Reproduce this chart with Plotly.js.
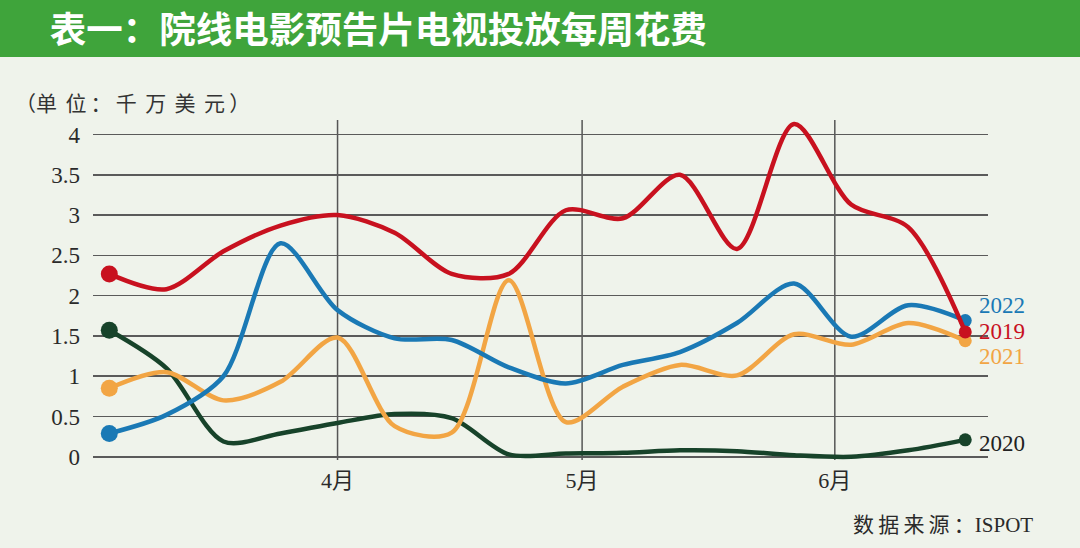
<!DOCTYPE html>
<html>
<head>
<meta charset="utf-8">
<script src="https://cdn.plot.ly/plotly-3.0.1.min.js"></script>
<style>
  html, body { margin: 0; padding: 0; background: #eff3eb; }
  #chart { width: 1080px; height: 548px; }
</style>
</head>
<body>
<div id="chart"></div>
<script>
// ---- data ----
const weeks = ['2022-03-04','2022-03-11','2022-03-18','2022-03-25','2022-04-01','2022-04-08',
               '2022-04-15','2022-04-22','2022-04-29','2022-05-06','2022-05-13','2022-05-20',
               '2022-05-27','2022-06-03','2022-06-10','2022-06-17'];
const s2019 = [2.27, 2.08, 2.55, 2.87, 3.00, 2.78, 2.27, 2.27, 3.06, 2.96, 3.50, 2.58, 4.13, 3.13, 2.85, 1.55];
const s2020 = [1.57, 1.10, 0.19, 0.29, 0.42, 0.53, 0.48, 0.03, 0.04, 0.05, 0.08, 0.07, 0.02, 0.00, 0.08, 0.21];
const s2021 = [0.85, 1.05, 0.70, 0.93, 1.48, 0.38, 0.30, 2.19, 0.43, 0.87, 1.14, 1.01, 1.52, 1.39, 1.66, 1.44];
const s2022 = [0.29, 0.52, 1.00, 2.65, 1.82, 1.47, 1.45, 1.11, 0.91, 1.14, 1.30, 1.66, 2.15, 1.49, 1.88, 1.69];
const seriesNames = ['2019', '2020', '2021', '2022'];
const monthTicks = ['2022-04-01', '2022-05-01', '2022-06-01'];
const monthLabels = ['4月', '5月', '6月'];
const yTicks = [0, 0.5, 1, 1.5, 2, 2.5, 3, 3.5, 4];
const yTickLabels = ['0', '0.5', '1', '1.5', '2', '2.5', '3', '3.5', '4'];
const titleText = '表一：院线电影预告片电视投放每周花费';
const unitText = '（单\u2009\u2009位\u2009：\u2009千\u2009\u2009万\u2009\u2009美\u2009\u2009元\u2009）';
const sourceText = '数\u2009据\u2009来\u2009源\u2009：ISPOT';

// ---- styling ----
const colors = { '2019': '#c8111f', '2020': '#17432a', '2021': '#f2a544', '2022': '#1a79b5' };
const labelColors = { '2019': '#c8111f', '2020': '#222222', '2021': '#f2a544', '2022': '#1a79b5' };
const labelY = { '2019': 1.56, '2020': 0.17, '2021': 1.25, '2022': 1.88 };
const serif = 'Liberation Serif, "Noto Sans CJK SC", serif';
const cjk = '"Noto Sans CJK SC", sans-serif';

const dataBy = { '2019': s2019, '2020': s2020, '2021': s2021, '2022': s2022 };
const drawOrder = ['2020', '2021', '2022', '2019'];

function markerSizes(n) {
  const a = new Array(n).fill(0);
  a[0] = 17; a[n - 1] = 13;
  return a;
}

const traces = drawOrder.map(k => ({
  type: 'scatter',
  mode: 'lines+markers',
  name: k,
  x: weeks,
  y: dataBy[k],
  line: { color: colors[k], width: 4.5, shape: 'spline', smoothing: 0.85 },
  marker: { color: colors[k], size: markerSizes(weeks.length), opacity: 1, line: { width: 0 } },
  cliponaxis: false,
  hoverinfo: 'x+y+name'
}));

const lastWeek = weeks[weeks.length - 1];
const annotations = seriesNames.map(k => ({
  x: lastWeek, y: labelY[k], xref: 'x', yref: 'y',
  xanchor: 'left', yanchor: 'middle', xshift: 12,
  text: k, showarrow: false,
  font: { family: serif, size: 23, color: labelColors[k] }
}));
annotations.push({
  xref: 'paper', yref: 'paper', x: -0.0894, y: 1.053,
  xanchor: 'left', yanchor: 'middle', showarrow: false,
  text: unitText, font: { family: cjk, size: 21, color: '#333333' }
});
annotations.push({
  xref: 'paper', yref: 'paper', x: 1.0525, y: -0.191,
  xanchor: 'right', yanchor: 'middle', showarrow: false,
  text: sourceText, font: { family: serif, size: 21, color: '#2a2a2a' }
});

const shapes = [
  { type: 'rect', xref: 'paper', yref: 'paper', x0: -0.12, x1: 1.12, y0: 1.1853, y1: 1.36,
    fillcolor: '#3fa43b', line: { width: 0 }, layer: 'above' }
];
monthTicks.forEach(d => shapes.push({
  type: 'line', xref: 'x', yref: 'paper', x0: d, x1: d, y0: 0.0, y1: 1.0,
  line: { color: '#555555', width: 1.5 }, layer: 'below'
}));

const layout = {
  width: 1080, height: 548,
  margin: { l: 93, r: 92, t: 120, b: 88, pad: 0 },
  paper_bgcolor: '#eff3eb',
  plot_bgcolor: '#eff3eb',
  showlegend: false,
  title: {
    text: titleText,
    x: 0.046, xanchor: 'left', xref: 'container',
    y: 0.945, yanchor: 'middle', yref: 'container',
    font: { family: cjk, size: 36.5, color: '#ffffff', weight: 'bold' }
  },
  xaxis: {
    type: 'date',
    range: ['2022-03-02', '2022-06-19 19:00'],
    tickvals: monthTicks, ticktext: monthLabels,
    showgrid: false, zeroline: false, showline: false,
    ticks: '', ticklabelstandoff: 5,
    tickfont: { family: serif, size: 22, color: '#2a2a2a' }
  },
  yaxis: {
    range: [-0.04, 4.18],
    tickvals: yTicks, ticktext: yTickLabels,
    showgrid: true, gridcolor: '#5a5a5a', gridwidth: 1.5,
    zeroline: false, showline: false,
    ticks: '', ticklabelstandoff: 12,
    tickfont: { family: serif, size: 23, color: '#2a2a2a' }
  },
  shapes: shapes,
  annotations: annotations
};

Plotly.newPlot('chart', traces, layout, { displayModeBar: false, staticPlot: true });
</script>
</body>
</html>
